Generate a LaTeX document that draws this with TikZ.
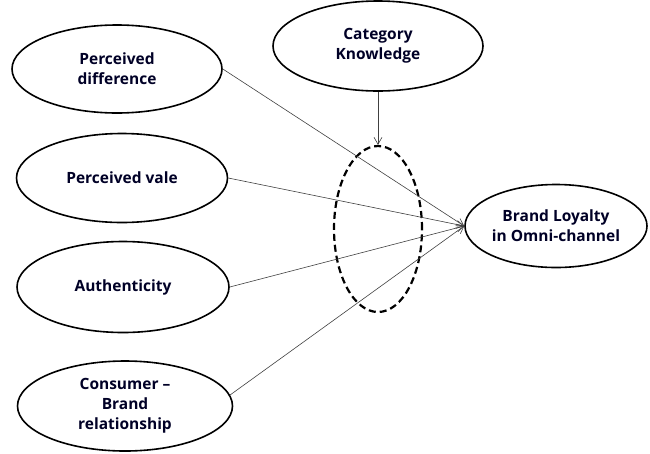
\documentclass[tikz,border=0pt]{standalone}
\usepackage{fontspec}
\setmainfont{Open Sans}
\usetikzlibrary{shapes.geometric,arrows.meta}
\begin{document}
\begin{tikzpicture}[x=1pt,y=-1pt,
  oval/.style={draw=black,line width=1.6pt,ellipse,inner sep=0pt,align=center,
    font=\fontsize{15.5}{20}\selectfont\bfseries,text=black!85!blue},
  link/.style={draw=black!75,line width=0.6pt,-{Straight Barb[length=7pt,width=8pt]}},
  modbox/.style={draw=black,line width=2.2pt,dash pattern=on 7pt off 4pt,ellipse,inner sep=0pt}]
\useasboundingbox (0,0) rectangle (650,453);
\node[oval,minimum width=210pt,minimum height=88pt] (pd) at (117,69) {Perceived\\difference};
\node[oval,minimum width=210pt,minimum height=90pt] (ck) at (378,46) {Category\\Knowledge};
\node[oval,minimum width=211pt,minimum height=89pt] (pv) at (122,178) {Perceived vale};
\node[oval,minimum width=212pt,minimum height=91pt] (au) at (123,287) {Authenticity};
\node[oval,minimum width=215pt,minimum height=90pt] (cb) at (125,406) {Consumer –\\Brand\\relationship};
\node[oval,minimum width=182pt,minimum height=83pt] (bl) at (556,226) {Brand Loyalty\\in Omni-channel};
\node[modbox,minimum width=88pt,minimum height=166pt] (mod) at (378,229) {};
\draw[link] (pd.east) -- (bl.west);
\draw[link] (pv.east) -- (bl.west);
\draw[link] (au.east) -- (bl.west);
\draw[link] (cb.6) -- (bl.west);
\draw[link] (ck) -- (mod);
\end{tikzpicture}
\end{document}
